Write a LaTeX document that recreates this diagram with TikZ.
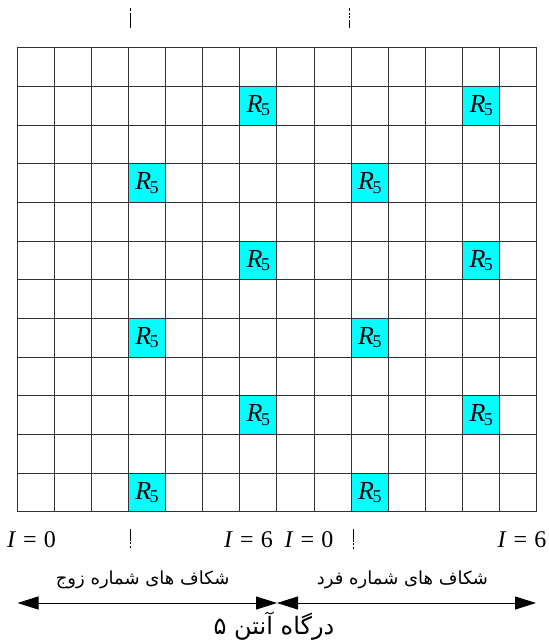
\documentclass[tikz,border=0pt]{standalone}
\usepackage{fontspec}
\setmainfont{Liberation Serif}
\newfontfamily\farsifont[Script=Arabic]{DejaVu Sans}
\TeXXeTstate=1
\usetikzlibrary{arrows.meta}
\definecolor{slotcyan}{RGB}{0,255,255}

\tikzset{
  gridline/.style={line width=1pt, black!80},
  rlabel/.style={font=\fontsize{26}{26}\selectfont, inner sep=0pt},
  ilabel/.style={font=\fontsize{24}{24}\selectfont, inner sep=0pt},
  falabel/.style={font=\farsifont\fontsize{18}{18}\selectfont, inner sep=0pt},
  tickmark/.style={line width=1.2pt},
  portarrow/.style={line width=1pt, arrows={Triangle[length=21pt,width=13pt]-Triangle[length=21pt,width=13pt]}}
}

\begin{document}
\begin{tikzpicture}[x=1pt,y=-1pt]
\useasboundingbox (0,0) rectangle (549,643);
% slots of antenna port 5
\foreach \c/\r in {6/1,12/1,3/3,9/3,6/5,12/5,3/7,9/7,6/9,12/9,3/11,9/11}{
  \fill[slotcyan] (17+37.14*\c,47.7+38.67*\r) rectangle ++(37.14,38.67);
  \node[rlabel] (r\c-\r) at (17+37.14*\c+18.57,47.7+38.67*\r+19.33)
    {\textit{R}\kern-1.5pt\raisebox{-0.3ex}{\fontsize{18}{18}\selectfont 5}};
}
% grid
\foreach \k in {0,...,14}
  \draw[gridline] (17+37.14*\k,47.7) -- (17+37.14*\k,511.7);
\foreach \k in {0,...,12}
  \draw[gridline] (17,47.7+38.67*\k) -- (537,47.7+38.67*\k);
% small marks
\draw[tickmark] (130.3,8.3) -- (130.3,10.7) (130.3,12.7) -- (130.3,28.3);
\draw[tickmark] (349.3,8.3) -- (349.3,10.7) (349.3,12.7) -- (349.3,15)
  (349.3,16) -- (349.3,18.3) (349.3,20) -- (349.3,28.3);
\draw[tickmark] (130.3,529.3) -- (130.3,540.7) (130.3,542.3) -- (130.3,544)
  (130.3,546) -- (130.3,548.3);
\draw[tickmark] (353.3,529.3) -- (353.3,541.7) (353.3,543) -- (353.3,545)
  (353.3,546.7) -- (353.3,549);
% symbol index labels
\node[ilabel] (even0) at (31.5,540) {\textit{I}\hspace{0.3em}=\hspace{0.3em}0};
\node[ilabel] (even6) at (248.5,540) {\textit{I}\hspace{0.3em}=\hspace{0.3em}6};
\node[ilabel] (odd0) at (309,540) {\textit{I}\hspace{0.3em}=\hspace{0.3em}0};
\node[ilabel] (odd6) at (522,540) {\textit{I}\hspace{0.3em}=\hspace{0.3em}6};
% slot captions
\node[falabel] (even) at (142.6,580) {\beginR شکاف های شماره زوج\endR};
\node[falabel] (odd) at (402.5,580) {\beginR شکاف های شماره فرد\endR};
\coordinate (aL) at (17.5,603);
\coordinate (aM) at (277,603);
\coordinate (aR) at (536,603);
\draw[portarrow] (aL) -- (aM);
\draw[portarrow] (aM) -- (aR);
\node[falabel, font=\farsifont\fontsize{24}{24}\selectfont] (port) at (274,626) {\beginR درگاه آنتن ۵\endR};
\end{tikzpicture}
\end{document}
